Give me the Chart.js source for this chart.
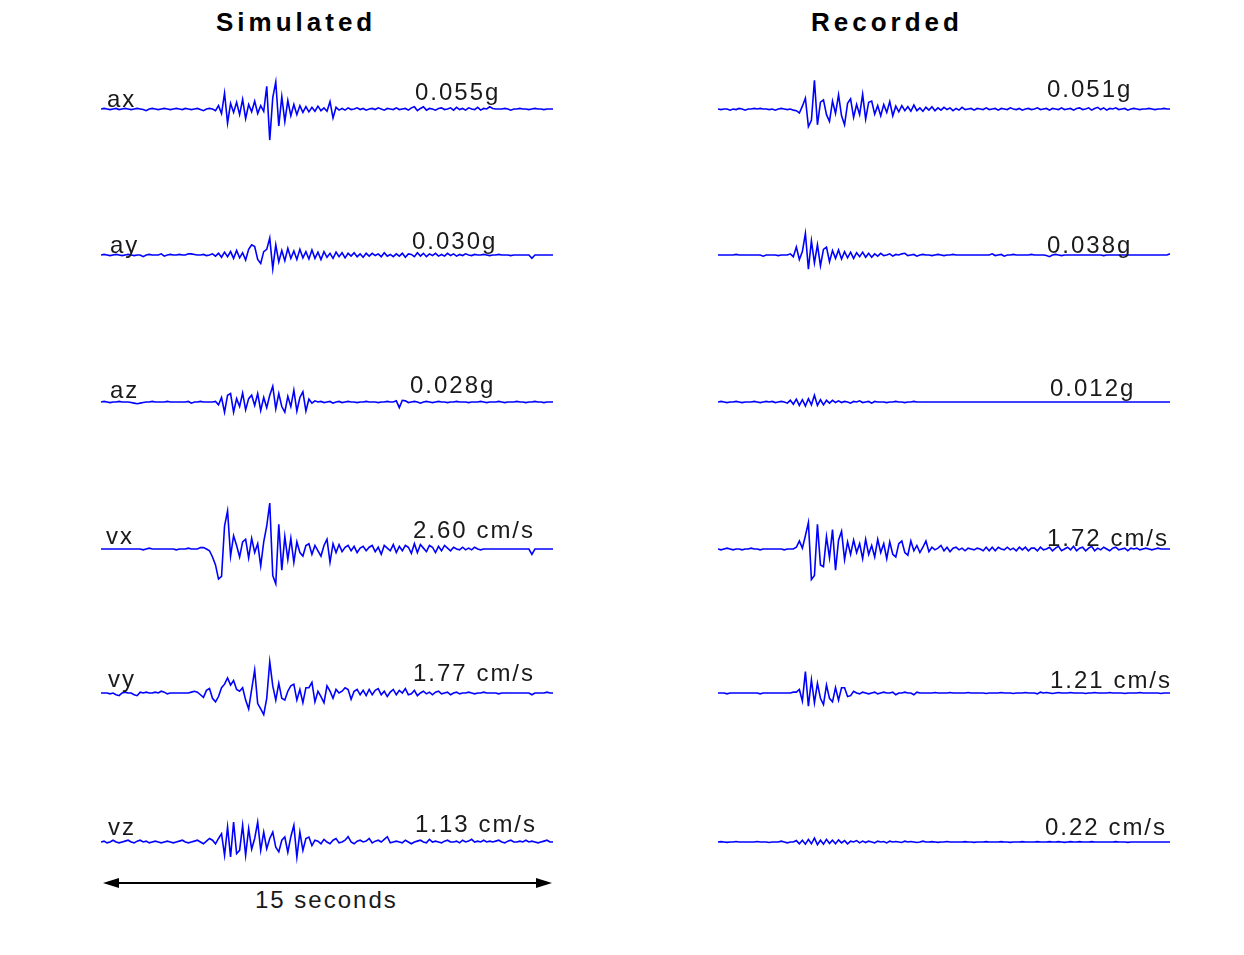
<!DOCTYPE html>
<html>
<head>
<meta charset="utf-8">
<script src="https://cdn.jsdelivr.net/npm/chart.js@4/dist/chart.umd.min.js"></script>
<style>
  html, body { margin: 0; padding: 0; background: #fff; }
  body { width: 1244px; height: 955px; position: relative; overflow: hidden; }
  .trace { position: absolute; }
  .lab {
    position: absolute; white-space: nowrap;
    font-family: "Liberation Sans", Arial, sans-serif;
    font-size: 24px; line-height: 24px; letter-spacing: 2px; color: #1a1a1a;
  }
  .title {
    position: absolute; white-space: nowrap;
    font-family: "Liberation Sans", Arial, sans-serif; font-weight: bold;
    font-size: 26px; line-height: 26px; letter-spacing: 4px; color: #000;
  }
  svg { position: absolute; left: 0; top: 0; }
</style>
</head>
<body>
<div class="title" style="left:216px; top:9px;">Simulated</div>
<div class="title" style="left:811px; top:9px;">Recorded</div>

<svg width="1244" height="955">
  <line x1="112" y1="883" x2="542" y2="883" stroke="#000" stroke-width="2"/>
  <polygon points="103,883 119,878 119,888" fill="#000"/>
  <polygon points="552,883 536,878 536,888" fill="#000"/>
</svg>
<div class="lab" style="left:255px; top:888px;">15 seconds</div>

<script>
// Sample spacing and record length (seconds)
const DT = 0.1;
const DURATION = 15;

const CHANNELS = ["ax", "ay", "az", "vx", "vy", "vz"];

// Accelerations in thousandths of g (mg)
const axSim = [0,1,0,-1,0,1,-1,0,1,0, -1,0,1,0,-1,-3,0,1,0,-1, 0,1,0,-1,0,1,0,-1,1,0,
  -1,0,1,-1,-3,0,1,0,-3,6, -8,28,-25,10,-6,12,-10,17,-17,8, -5,14,-8,6,-4,40,-55,20,48,-30,
  22,-22,15,-12,8,-10,6,-6,4,-5, 3,-4,5,-3,2,-4,13,-16,3,-2, 1,-2,2,-1,0,2,-1,1,-2,0,
  1,-1,2,0,-2,1,0,-1,2,-1, 0,1,-2,2,4,-3,1,4,-2,1, 0,-2,1,2,-1,0,2,-2,3,-1,
  1,-2,2,0,-1,3,-2,1,0,4, 1,0,0,0,1,0,-2,0,0,1, 0,0,-1,0,1,0,0,-1,0,0, 0];
const axRec = [0,-1,0,0,-2,0,-1,1,0,-2, 0,0,1,0,1,0,0,-1,0,-2, 0,1,0,-1,0,-2,-3,-7,5,19,
  -31,-20,51,-28,12,16,-10,-22,14,-8, 25,-12,-28,10,18,-15,8,-10,26,-18, 12,14,-9,6,-12,8,-6,13,-12,5,
  -5,6,-3,4,-4,7,-3,2,-4,3, -2,4,-3,2,-2,3,-1,2,-3,1, -2,3,-1,0,1,-2,1,0,-1,2,
  -1,0,1,-2,1,0,-1,2,0,-1, 1,-2,0,1,-1,0,2,-1,0,1, -2,1,0,-1,2,-1,0,1,-2,1,
  2,-1,0,2,-2,1,3,-1,2,-2, 1,0,2,-1,0,1,-2,0,1,0, -1,0,0,1,0,-1,0,0,1,0, 0];
const aySim = [0,1,0,-1,0,1,0,-1,0,1, 0,-1,0,0,-3,0,1,0,0,0, 2,-2,0,1,0,0,1,0,0,2,
  2,1,0,0,1,-1,0,2,-2,3, -4,5,-3,6,-6,8,-5,4,-9,10, 18,15,-8,-15,6,10,30,-24,18,-12,
  8,-10,12,-6,7,-8,10,-5,6,-7, 9,-6,5,-8,6,-4,3,-6,5,-3, 4,-5,3,-2,4,-3,2,-4,3,-2,
  3,-1,2,-3,4,-2,1,-3,2,-2, 3,-4,2,1,-3,4,-2,3,-3,2, -1,3,-2,1,-2,3,-1,2,-2,1,
  -1,2,0,-1,1,0,0,1,0,-1, 0,0,1,0,0,0,-1,0,0,0, 0,0,0,-6,0,0,0,0,0,0, 0];
const ayRec = [0,0,0,0,0,0,1,0,0,0, 0,0,0,0,0,-2,0,0,0,0, -1,0,0,0,2,-3,14,-8,6,38,
  -25,25,-14,18,-19,10,14,-12,8,-6, 9,-7,6,-5,5,-6,4,-3,5,-4, 3,-4,2,-2,3,-1,0,2,-2,1,
  0,2,3,-1,0,1,-2,0,1,0, 0,-1,0,1,0,-1,0,0,1,0, 0,0,0,0,0,0,0,0,0,0,
  0,2,-1,0,1,-2,0,0,1,0, 0,0,0,0,1,0,0,0,0,-1, -3,0,1,0,-1,0,0,0,0,0,
  0,0,0,0,0,0,0,0,-1,0, 0,0,0,0,0,0,0,0,0,0, 0,0,0,0,0,0,0,0,0,0, 2];
const azSim = [0,1,0,-1,0,0,1,0,0,0, -1,-2,-3,-2,-1,0,0,1,0,0, 0,0,1,0,0,0,0,0,0,1,
  -2,0,0,1,0,0,0,0,1,-5, 8,-18,12,15,-18,6,-8,16,-14,6, 12,-6,15,-15,8,-10,12,28,-12,15,
  -8,-18,10,-8,21,-16,8,18,-16,5, -2,2,0,1,-1,0,1,-2,0,1, -1,0,1,0,0,-1,0,0,1,0,
  0,0,-1,0,0,1,0,0,2,-10, 3,2,-1,0,1,0,-2,0,1,0, -1,0,1,0,0,-1,0,0,1,0,
  0,0,-1,0,0,0,1,0,-1,0, 0,0,1,0,-1,0,0,0,1,0, 0,-1,0,0,1,0,0,-1,0,0, 0];
const azRec = [0,1,0,-1,0,0,1,0,-1,0, 0,0,1,0,-1,0,1,0,1,-1, 0,1,0,-2,3,-4,5,-6,4,-7,
  6,-5,12,-6,4,-5,3,-2,3,-1, 2,-1,1,0,-2,1,0,2,-1,0, 1,-2,1,0,0,0,-1,0,0,1,
  0,0,-1,0,0,1,0,0,0,0, 0,0,0,0,0,0,0,0,0,0, 0,0,0,0,0,0,0,0,0,0,
  0,0,0,0,0,0,0,0,0,0, 0,0,0,0,0,0,0,0,0,0, 0,0,0,0,0,0,0,0,0,0,
  0,0,0,0,0,0,0,0,0,0, 0,0,0,0,0,0,0,0,0,0, 0,0,0,0,0,0,0,0,0,0, 0];

// Velocities in cm/s
const vxSim = [0,0,0,0,0,0,0,0,0,0, 0,0,0,0,-0.05,0,0.05,0,0,0, 0,0,0,0,0,-0.05,0,0,0,0.05,
  0,0,0,0.08,0.08,0,-0.1,-0.45,-0.9,-1.7, -1.55,1.3,2.16,-0.4,0.75,0.2,-0.45,0.4,0.55,-0.5,
  0.6,-0.2,0.3,-0.95,0.4,1.3,2.6,-1.5,-1.97,1.4, -1.2,0.7,-0.6,0.6,-0.75,0.4,-0.2,-0.4,0.2,0.3,
  -0.3,0.2,-0.1,-0.4,0.2,0.55,-0.75,0.3,-0.2,0.25, -0.15,0.1,0.2,-0.1,0.15,-0.2,0.05,0.15,-0.1,0.1,
  0.2,-0.15,0.1,-0.3,0.2,0.05,-0.1,0.25,-0.2,0.15, -0.1,0.2,0.1,-0.25,0.3,-0.2,0.25,0.05,-0.15,0.2,
  0.1,-0.2,0.15,-0.1,0.2,0.05,-0.1,0.1,0,-0.05, 0.1,-0.05,0.05,-0.05,0.1,0,-0.05,0,0,0,
  0,0,0,0,0,0,0,0,0,0, 0,0,0,-0.3,0,0,0,0,0,0, 0];
const vxRec = [0,-0.05,0,0.05,0,-0.05,0,0,-0.05,0, 0,0.05,0,0,-0.05,0,0,0,0,0,
  0,0,-0.05,0,0,0,0.1,0.45,0.05,0.75, 1.5,-1.72,-1.5,1.4,-0.9,-1.0,0.7,-0.5,1.1,-1.2,
  0.5,1.0,-0.6,0.4,-0.3,0.5,-0.2,0.3,-0.55,0.55, -0.3,0.2,-0.45,0.55,-0.2,0.3,-0.55,0.4,-0.3,-0.45,
  0.3,0.45,-0.2,-0.35,0.45,-0.1,0.2,-0.2,0.1,0.45, -0.15,0.1,-0.05,0.05,0.2,-0.1,0.1,-0.15,0.05,0.1,
  -0.05,0.05,-0.1,0.05,0,-0.05,0.05,0,-0.1,0.1, -0.1,0.1,-0.1,0.1,0,-0.05,0.1,-0.05,0.05,-0.1,
  0.1,-0.05,0.1,-0.1,0.05,0.05,-0.1,0.1,-0.05,0, 0.1,-0.1,0.05,0.15,-0.1,0,0.1,-0.05,0.15,-0.1,
  0.05,0.1,-0.1,0.05,0.15,-0.1,0.05,-0.05,0.1,0, -0.1,0.05,0.1,-0.05,0,0.05,-0.1,0.05,0,0.05,
  -0.05,0,0.05,0,-0.05,0,0.05,0,0,0, 0];
const vySim = [0,0,0,-0.05,0,-0.1,-0.15,0,0.05,0, 0,-0.1,-0.15,0.05,0,0.05,0,0,0.05,0,
  0.1,0.05,-0.05,0,0,0,0,0,0,0, 0.05,0.1,0.05,-0.1,-0.25,0.15,0.25,-0.3,-0.5,-0.2,
  0.3,0.5,0.85,0.45,0.7,0.2,0.1,0.3,-0.4,-0.9, 0.2,1.3,-0.6,-0.9,-1.22,-0.3,1.77,0.4,-0.4,0.55,
  -0.3,-0.4,0.1,0.4,0.5,-0.4,0.2,-0.55,0.3,0.3, 0.6,-0.5,0.1,-0.2,-0.55,0.4,0.1,-0.3,0.2,0,
  0.1,0.3,0.2,-0.35,0.1,0.2,-0.1,0.15,-0.15,0.2, -0.1,0.15,0.25,-0.1,0.1,-0.2,0.05,0.2,-0.1,0.15,
  0,0.25,-0.1,-0.05,0.15,-0.15,0,0.1,-0.05,0.05, -0.1,0.05,0.1,-0.05,0,0.05,-0.1,0,0.05,-0.05,
  0,0,0.05,0,-0.05,0,0,0.05,0,0, 0,0,-0.05,0,0,0,0,0,0,0, 0,0,0,-0.1,0,0,0,0,0.05,0, 0];
const vyRec = [0,0,0,-0.05,0,0,0,0,0,0, 0,0,0,0,-0.05,0,0,0,0,0, 0,0,0,0,0,0.05,0.05,0.2,-0.45,1.21,
  -0.75,0.75,-0.55,0.55,-0.3,-0.65,0.45,-0.3,-0.5,0.3, -0.4,0.3,0.3,-0.2,-0.15,0.1,0,-0.05,0.05,0,
  -0.05,0,0.05,-0.05,0,0.05,0,0,0.05,-0.1, 0,0,0.05,0,0,-0.1,0.05,0,0,0,
  0,0,0.03,0,0,0,0,0.03,0,0, 0,0,0,0.03,0,0,0,0,0,-0.03, 0,0,0,0,0.03,0,0,0,-0.03,0,
  0,0,0.03,0,0,0,-0.05,0.05,0,0.03, 0,-0.03,0,0.03,0,0,0,0.03,0,0, 0,0,-0.03,0,0,0.03,0,0,0,0,
  0.03,0,0,0,0,-0.03,0,0,0,0, 0.03,0,0,0,0,0,0,-0.03,0,0, 0];
const vzSim = [0,0.05,-0.05,0,0.1,0,-0.05,0,0.05,0.1, 0,-0.05,0.05,0.1,0,0.05,-0.05,0,0.05,0,
  -0.05,0,0.05,0,-0.05,0,0.05,0.1,0,-0.05, 0,0.05,0.1,0,-0.1,0.05,0.2,0.1,-0.1,0.2,
  0.47,-0.75,0.85,-0.85,1.13,-0.66,-0.47,0.94,-0.75,0.75, -0.4,0.2,1.13,-0.47,0.56,-0.38,0.2,0.56,-0.3,-0.56,
  0.1,0.28,-0.58,0.3,0.94,-0.85,0.56,-0.47,0.2,0.28, -0.2,0.1,0.05,-0.1,0.15,0,-0.1,0.1,0.2,-0.05,
  0,0.1,0.3,0,-0.1,0.05,0.1,0,0.05,0.2, -0.05,0.05,0.1,0,0.15,0.3,-0.05,0,0.05,0,
  -0.05,0.1,0,-0.1,0,0.05,0.1,0,-0.05,0.15, 0,0.05,0,-0.05,0.05,0.1,0,0,0.05,-0.05,
  0.1,0,0.05,0.15,0,0.05,0,0.1,0,0.05, 0,0.05,0.1,0,-0.05,0.05,0.1,0,0,0.05,
  0,0.1,0,0.05,0,-0.05,0,0.05,0.1,0, 0];
const vzRec = [0,0.02,0,-0.02,0,0,0.03,0,0,0, 0,0,0,0.03,0,0,0,-0.03,0,0,
  0,0.05,0,-0.05,0,0,0.08,-0.1,0.1,-0.12, 0.15,-0.1,0.22,-0.15,0.1,-0.12,0.15,-0.08,0.1,-0.1,
  0.12,-0.05,0.08,-0.1,0.05,0,0.08,-0.05,0.05,-0.03, 0.05,0,-0.05,0.05,0,0.03,-0.05,0.05,0,0.03,
  0,-0.03,0.05,0,0.03,0,-0.03,0,0.05,0, 0,0.02,0,-0.02,0,0,0.03,0,0,0,
  0,0,0.02,0,0,-0.02,0,0,0,0.02, 0,0,0,0,0.02,0,0,-0.02,0,0,
  0,0.02,0,0,0,0,0.02,0,0,0, 0.02,0,0,0.02,0,-0.02,0,0.02,0,0,
  0.02,0,0,0,0.02,0,0,0,0,0, 0,0,0.02,0,0,0,-0.02,0,0,0, 0,0,0,0,0,0,0,0,0,0, 0];

const simulated = [axSim, aySim, azSim, vxSim, vySim, vzSim];
const recorded  = [axRec, ayRec, azRec, vxRec, vyRec, vzRec];

// Trace baselines (page y) and column origins
const rowBase = [109, 255, 402, 549, 693, 842];
const colLeft = [101, 718];
const TRACE_W = 452, TRACE_H = 140;
// Shared amplitude scales: half-height of each strip in data units
const HALF_ACC = 123.9;   // mg
const HALF_VEL = 3.955;   // cm/s

// Label placement for each strip: [name, peak value] boxes
const nameBox = [[107, 87], [110, 233], [110, 378], [106, 524], [108, 667], [108, 815]];
const simPeakBox = [[415, 80], [412, 229], [410, 373], [413, 518], [413, 661], [415, 812]];
const recPeakBox = [[1047, 77], [1047, 233], [1050, 376], [1047, 526], [1050, 668], [1045, 815]];

function peakLabel(values, isAcc) {
  const p = Math.max(...values.map(Math.abs));
  return isAcc ? (p / 1000).toFixed(3) + "g" : p.toFixed(2) + " cm/s";
}

function addLabel(text, x, y) {
  const d = document.createElement("div");
  d.className = "lab";
  d.textContent = text;
  d.style.left = x + "px";
  d.style.top = y + "px";
  document.body.appendChild(d);
}

function drawTrace(values, left, base, isAcc) {
  const cv = document.createElement("canvas");
  cv.className = "trace";
  cv.width = TRACE_W; cv.height = TRACE_H;
  cv.style.left = left + "px";
  cv.style.top = (base - TRACE_H / 2) + "px";
  cv.style.width = TRACE_W + "px"; cv.style.height = TRACE_H + "px";
  document.body.appendChild(cv);
  const half = isAcc ? HALF_ACC : HALF_VEL;
  new Chart(cv, {
    type: "line",
    data: {
      datasets: [{
        data: values.map((v, i) => ({ x: i * DT, y: v })),
        borderColor: "#0000ff",
        borderWidth: 1.6,
        pointRadius: 0,
        tension: 0,
        fill: false
      }]
    },
    options: {
      responsive: false,
      animation: false,
      devicePixelRatio: 1,
      layout: { padding: 0 },
      scales: {
        x: { type: "linear", min: 0, max: DURATION, display: false },
        y: { min: -half, max: half, display: false }
      },
      plugins: { legend: { display: false }, tooltip: { enabled: false } }
    }
  });
}

CHANNELS.forEach((name, r) => {
  const isAcc = r < 3;
  drawTrace(simulated[r], colLeft[0], rowBase[r], isAcc);
  drawTrace(recorded[r], colLeft[1], rowBase[r], isAcc);
  addLabel(name, nameBox[r][0], nameBox[r][1]);
  addLabel(peakLabel(simulated[r], isAcc), simPeakBox[r][0], simPeakBox[r][1]);
  addLabel(peakLabel(recorded[r], isAcc), recPeakBox[r][0], recPeakBox[r][1]);
});
</script>
</body>
</html>
